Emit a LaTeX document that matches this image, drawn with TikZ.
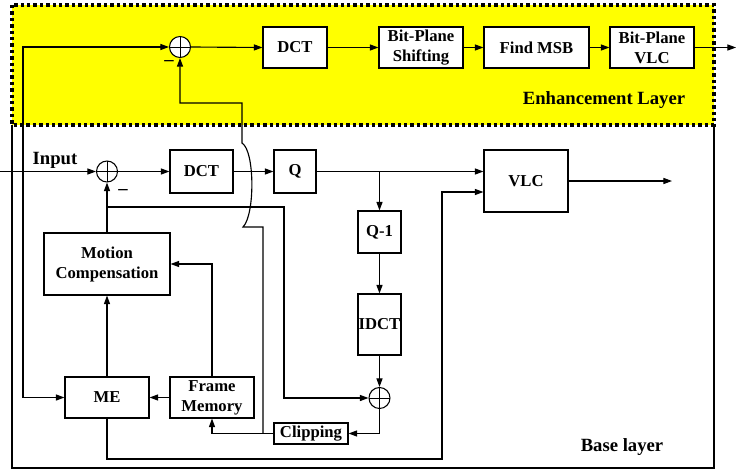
\documentclass[tikz,border=0pt]{standalone}
\usepackage{fontspec}
\setmainfont{Liberation Serif}
\usetikzlibrary{arrows.meta,calc}
\definecolor{LayerYellow}{HTML}{FFFF00}
\definecolor{DiagramInk}{HTML}{000000}

\begin{document}
\begin{tikzpicture}[
  x=0.75pt,y=-0.75pt,
  >={Triangle[length=6.5pt,width=4.6pt]},
  line join=miter,
  every node/.style={font=\fontsize{12.5}{15}\selectfont\bfseries,text=DiagramInk},
  blk/.style 2 args={draw=DiagramInk,line width=.8pt,fill=white,align=center,
    inner sep=0pt,minimum width=#1*0.75pt,minimum height=#2*0.75pt},
  sumnode/.style={circle,draw=DiagramInk,fill=white,line width=.8pt,
    minimum size=15.75pt,inner sep=0pt,
    path picture={\draw[line width=.6pt]
      (path picture bounding box.north)--(path picture bounding box.south)
      (path picture bounding box.west)--(path picture bounding box.east);}},
  flow/.style={->,line width=.85pt,DiagramInk},
  layerlabel/.style={font=\fontsize{14}{16}\selectfont\bfseries},
  minuslabel/.style={font=\fontsize{14}{16}\selectfont\bfseries,inner sep=0pt}
]
  \useasboundingbox (0,0) rectangle (736,471);

  \fill[LayerYellow] (12,5) rectangle (714,125);
  \draw[DiagramInk,line width=1.6pt] (12,125)--(12,468)--(714,468)--(714,125);
  \draw[DiagramInk,line width=2.8pt,dash pattern=on 2.6pt off 2.2pt]
    (12,5) rectangle (714,125);

  \node[sumnode] (addE) at (180,47) {};
  \node[blk={64}{41}] (dctE) at (295,47.5) {DCT};
  \node[blk={84}{41}] (shift) at (421,47.5) {Bit-Plane\\Shifting};
  \node[blk={105}{41}] (msb) at (536.5,47.5) {Find MSB};
  \node[blk={84}{41}] (bpvlc) at (652,47.5) {Bit-Plane\\VLC};
  \coordinate (outE) at (736,47.5);
  \node[minuslabel] (minusE) at (169,63) {--};
  \node[layerlabel] (enhlabel) at (604,100) {Enhancement Layer};

  \node[sumnode] (addB) at (107,171.5) {};
  \node[blk={63}{43}] (dctB) at (201.5,171.5) {DCT};
  \node[blk={42}{43}] (q) at (295,171.5) {Q};
  \node[blk={84}{62}] (vlc) at (526,181) {VLC};
  \node[blk={43}{42}] (qinv) at (379.5,232) {Q-1};
  \node[blk={43}{61}] (idct) at (379.5,324.5) {IDCT};
  \node[sumnode] (addR) at (379.5,398) {};
  \node[blk={74}{21}] (clip) at (311,433.5) {Clipping};
  \node[blk={84}{41}] (fm) at (212,397.5) {Frame\\Memory};
  \node[blk={84}{41}] (me) at (107,397.5) {ME};
  \node[blk={126}{62}] (mc) at (107,264) {Motion\\Compensation};
  \node[minuslabel] (minusB) at (123,192) {--};
  \node[layerlabel] (inlabel) at (55,160) {Input};
  \node[layerlabel] (baselabel) at (622,447) {Base layer};

  \coordinate (inp) at (0,171.5);
  \coordinate (tapBot) at (23,397.5);
  \coordinate (mcTap) at (107,207);
  \coordinate (predBend) at (284,207);
  \coordinate (clipTap) at (263,433.5);
  \coordinate (hopLow) at (243,227);
  \coordinate (hopHigh) at (242,143);
  \coordinate (enhBend) at (242,103);
  \coordinate (mvLow) at (442,459);
  \coordinate (vlcIn) at ($(vlc.west)+(0,11)$);
  \coordinate (baseOut) at (672,181);

  \draw[flow] (addE.east)--(dctE.west);
  \draw[flow] (dctE.east)--(shift.west);
  \draw[flow] (shift.east)--(msb.west);
  \draw[flow] (msb.east)--(bpvlc.west);
  \draw[flow] (bpvlc.east)--(outE);
  \draw[flow,<->] (addE.west) -| (tapBot)--(me.west);

  \draw[flow] (inp)--(addB.west);
  \draw[flow] (addB.east)--(dctB.west);
  \draw[flow] (dctB.east)--(q.west);
  \draw[flow] (q.east)--(q.east -| vlc.west);
  \draw[flow] (q.east -| qinv)--(qinv.north);
  \draw[flow] (qinv.south)--(idct.north);
  \draw[flow] (idct.south)--(addR.north);
  \draw[flow] (addR.south) |- (clip.east);
  \draw[flow] (clip.west) -| (fm.south);
  \draw[flow] (clipTap) |- (hopLow)
    .. controls +(12,-12) and +(13,8) .. (hopHigh)--(enhBend) -| (addE.south);
  \draw[flow] (fm.west)--(me.east);
  \draw[flow] (fm.north) |- (mc.east);
  \draw[flow] (me.north)--(mc.south);
  \draw[flow] (mc.north)--(addB.south);
  \draw[flow] (mcTap)--(predBend) |- (addR.west);
  \draw[flow] (me.south) |- (mvLow) |- (vlcIn);
  \draw[flow] (vlc.east)--(baseOut);
\end{tikzpicture}
\end{document}
